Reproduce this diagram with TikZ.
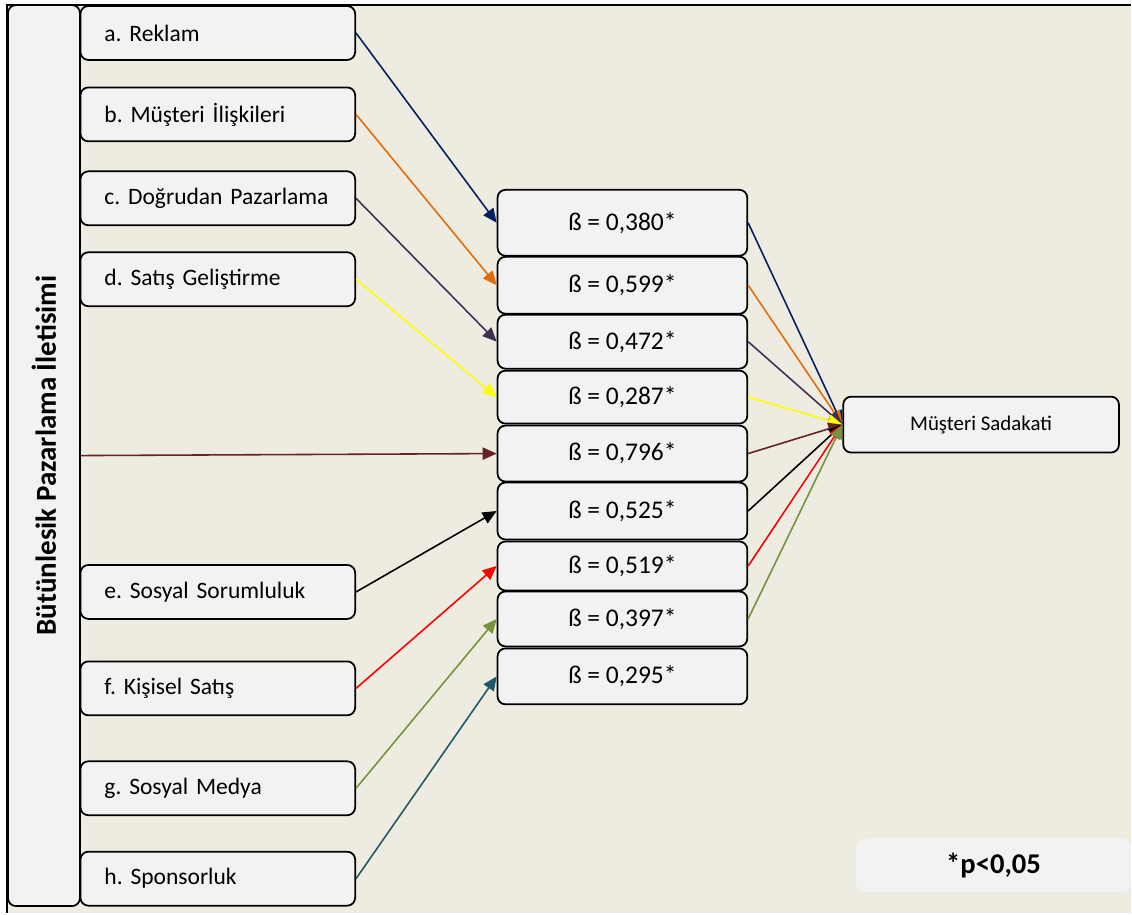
\documentclass[tikz,border=0pt]{standalone}
\usepackage{fontspec}
\setmainfont{Carlito}
\usepackage{tikz}
\usetikzlibrary{arrows.meta}
\frenchspacing
\definecolor{bgtan}{HTML}{EEECE1}
\definecolor{boxgray}{HTML}{F2F2F2}
\definecolor{cnavy}{HTML}{002060}
\definecolor{corange}{HTML}{E36C09}
\definecolor{cplum}{HTML}{403152}
\definecolor{cyellow}{HTML}{FFFF00}
\definecolor{cbrown}{HTML}{632423}
\definecolor{cred}{HTML}{FF0000}
\definecolor{colive}{HTML}{76923C}
\definecolor{cteal}{HTML}{215868}
\tikzset{src/.style={draw,line width=1pt,rounded corners=4.5pt,fill=boxgray,text width=4.54cm,inner xsep=0.48cm,inner ysep=0pt,minimum height=1.08cm,align=left,font=\fontsize{13.4}{16}\selectfont},
bt/.style={draw,line width=1pt,rounded corners=4.5pt,fill=boxgray,minimum width=5cm,minimum height=#1,inner sep=0pt,font=\fontsize{14.5}{17}\selectfont},
arr/.style={-{Triangle[length=8pt,width=7pt]},line width=0.9pt}}

\begin{document}
\begin{tikzpicture}[x=0.02cm,y=-0.02cm]
\fill[white] (0,0) rectangle (1132,914);
\fill[bgtan] (7,5) rectangle (1132,914);
\draw[line width=1.2pt] (7,914)--(7,5)--(1132,5);
\node[draw,line width=1pt,rounded corners=4.5pt,fill=boxgray,rotate=90,minimum width=18.04cm,minimum height=1.44cm,inner sep=0pt,font=\bfseries\fontsize{16.5}{19}\selectfont] (ibk) at (44,456) {Bütünlesik Pazarlama İletisimi};
\node[src] (a) at (218,33) {a. Reklam}; \node[src] (b) at (218,114.5) {b. Müşteri İlişkileri};
\node[src] (c) at (218,198.5) {c. Doğrudan Pazarlama}; \node[src] (d) at (218,279.5) {d. Satış Geliştirme};
\node[src] (e) at (218,592.5) {e. Sosyal Sorumluluk}; \node[src] (f) at (218,689) {f. Kişisel Satış};
\node[src] (g) at (218,789) {g. Sosyal Medya}; \node[src] (h) at (218,879.5) {h. Sponsorluk};
\node[bt=1.32cm] (b1) at (623,223) {ß = 0,380*};
\node[bt=1.14cm] (b2) at (623,285.5) {ß = 0,599*};
\node[bt=1.08cm] (b3) at (623,342) {ß = 0,472*};
\node[bt=1.06cm] (b4) at (623,397.5) {ß = 0,287*};
\node[bt=1.12cm] (b5) at (623,454) {ß = 0,796*};
\node[bt=1.14cm] (b6) at (623,511.5) {ß = 0,525*};
\node[bt=0.98cm] (b7) at (623,566.5) {ß = 0,519*};
\node[bt=1.1cm] (b8) at (623,619.5) {ß = 0,397*};
\node[bt=1.12cm] (b9) at (623,677) {ß = 0,295*};
\node[draw,line width=1pt,rounded corners=4.5pt,fill=boxgray,minimum width=5.52cm,minimum height=1.12cm,font=\fontsize{11.9}{14}\selectfont] (sad) at (982,425) {Müşteri Sadakati};
\node[rounded corners=5pt,fill=boxgray,minimum width=5.5cm,minimum height=1.08cm,font=\bfseries\fontsize{16.3}{19}\selectfont] (pv) at (994.5,866) {*p<0,05};
\draw[arr,cnavy] (a.east)--(b1.west); \draw[arr,corange] (b.east)--(b2.west);
\draw[arr,cplum] (c.east)--(b3.west); \draw[arr,cyellow] (d.east)--(b4.west);
\draw[arr,cbrown] (ibk.south)--(b5.west); \draw[arr,black] (e.east)--(b6.west);
\draw[arr,cred] (f.east)--(b7.west); \draw[arr,colive] (g.east)--(b8.west);
\draw[arr,cteal] (h.east)--(b9.west);
\draw[arr,cnavy] (b1.east)--(sad.west); \draw[arr,corange] (b2.east)--(sad.west);
\draw[arr,cplum] (b3.east)--(sad.west); \draw[arr,cyellow] (b4.east)--(sad.west);
\draw[arr,cbrown] (b5.east)--(sad.west); \draw[arr,black] (b6.east)--(sad.west);
\draw[arr,cred] (b7.east)--(sad.west); \draw[arr,colive] (b8.east)--(sad.west);
\end{tikzpicture}
\end{document}
